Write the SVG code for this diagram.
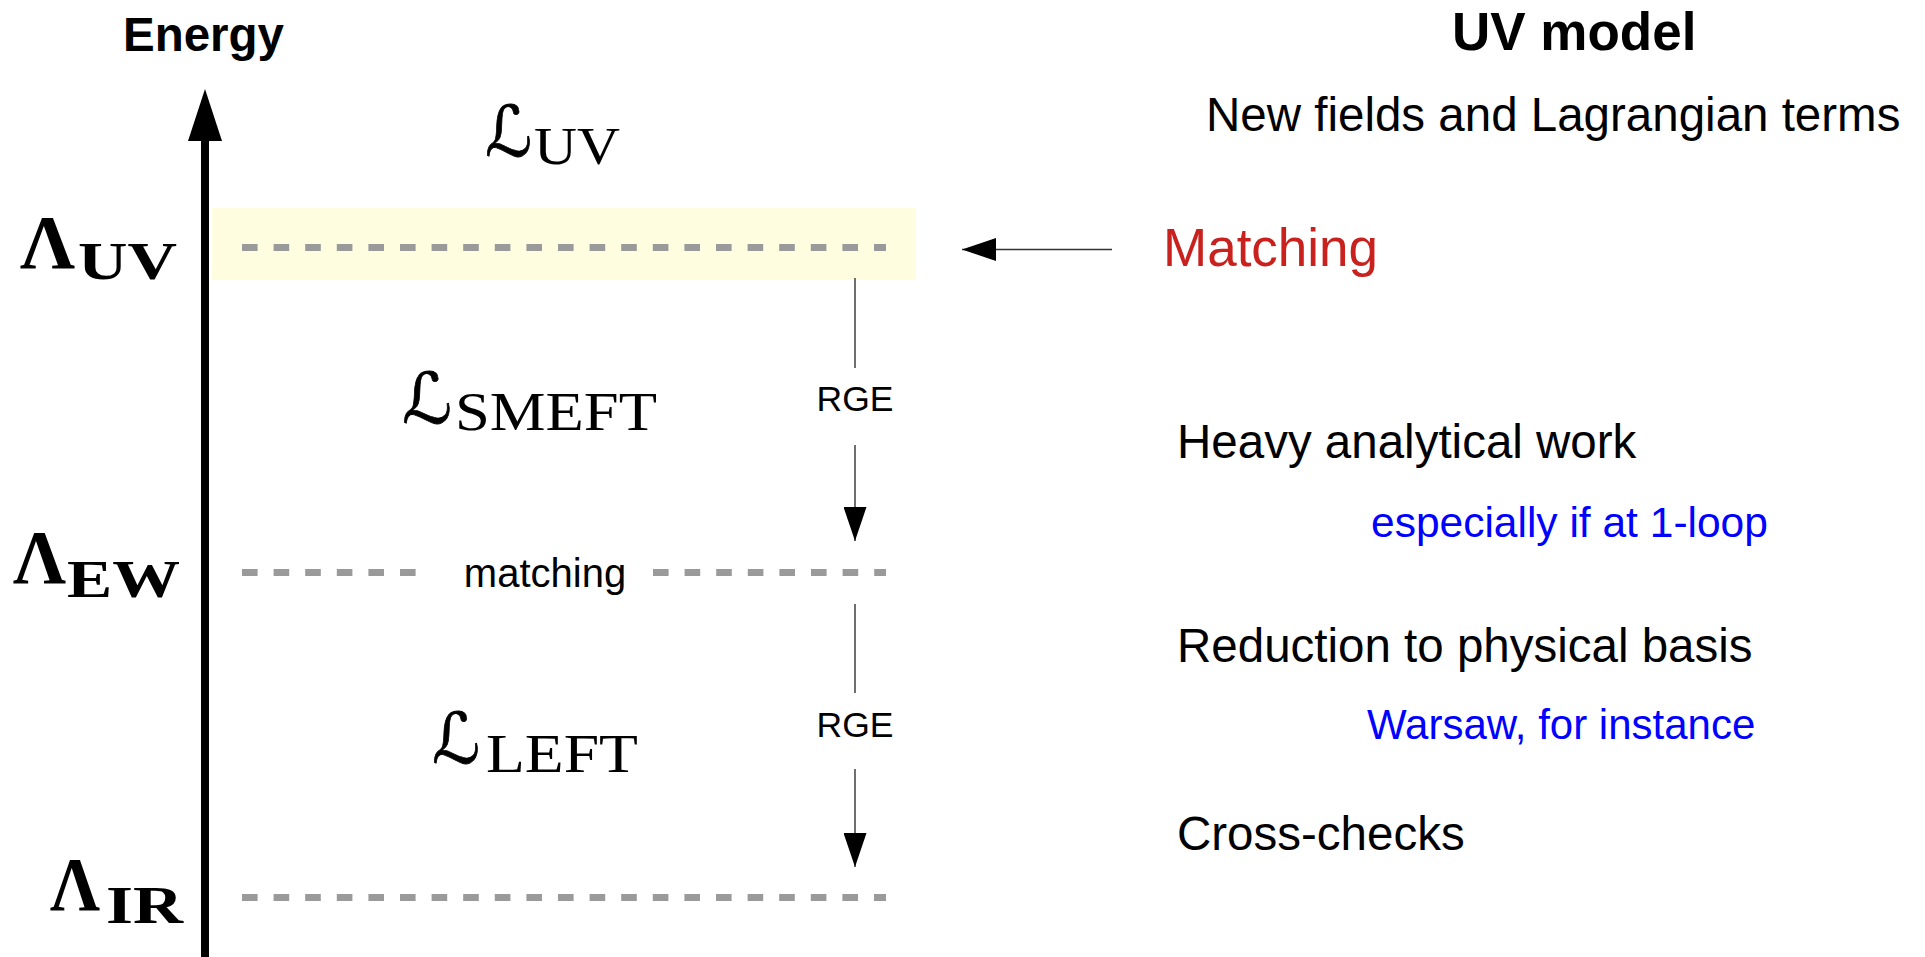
<svg xmlns="http://www.w3.org/2000/svg" width="1925" height="957" viewBox="0 0 1925 957">
  <style>
    .sans { font-family: "Liberation Sans", Arial, sans-serif; fill: #000; }
    .bold { font-weight: bold; }
    .serif { font-family: "Liberation Serif", "Times New Roman", serif; fill: #000; }
    .script { font-family: "DejaVu Serif", "DejaVu Sans", serif; font-style: normal; fill: #000; stroke: #000; stroke-width: 0.8; }
    .blue { fill: #0000ff; }
    .red { fill: #c9211e; }
    .level { stroke: #9a9a9a; stroke-width: 7; stroke-dasharray: 15.6 16; fill: none; }
    .thin { stroke: #333; stroke-width: 1.4; fill: none; }
  </style>
  <defs>
    <marker id="headThin" markerUnits="userSpaceOnUse" markerWidth="34" markerHeight="23" refX="34" refY="11.5" viewBox="0 0 34 23" orient="auto">
      <path d="M0,0 L34,11.5 L0,23 Z" fill="#000"/>
    </marker>
  </defs>
  <rect width="1925" height="957" fill="#fff"/>

  <g id="uv-band">
    <rect x="212" y="208" width="704" height="72" fill="#fefde0"/>
  </g>

  <g id="levels">
    <line class="level" x1="242" y1="247.5" x2="886" y2="247.5"/>
    <line class="level" x1="242" y1="572.5" x2="416" y2="572.5"/>
    <line class="level" x1="653" y1="572.5" x2="886" y2="572.5"/>
    <line class="level" x1="242" y1="897.5" x2="886" y2="897.5"/>
  </g>

  <g id="connectors">
    <line id="energy-axis" x1="205" y1="957" x2="205" y2="141" stroke="#000" stroke-width="8"/>
    <path d="M205,89 L188,141 L222,141 Z" fill="#000"/>
    <line id="matching-arrow" class="thin" x1="1112" y1="249.5" x2="962" y2="249.5" marker-end="url(#headThin)"/>
    <line id="rge1-top" class="thin" x1="855" y1="278" x2="855" y2="368"/>
    <line id="rge1-bottom" class="thin" x1="855" y1="445" x2="855" y2="541" marker-end="url(#headThin)"/>
    <line id="rge2-top" class="thin" x1="855" y1="604" x2="855" y2="693"/>
    <line id="rge2-bottom" class="thin" x1="855" y1="769" x2="855" y2="867" marker-end="url(#headThin)"/>
  </g>

  <g id="energy-label">
    <text class="sans bold" x="123" y="51" font-size="47.5">Energy</text>
  </g>

  <g id="lambda-uv">
    <text class="serif bold" x="20" y="268" font-size="76" textLength="55" lengthAdjust="spacingAndGlyphs">Λ</text>
    <text class="serif bold" x="78" y="279" font-size="53" textLength="99" lengthAdjust="spacingAndGlyphs">UV</text>
  </g>
  <g id="lambda-ew">
    <text class="serif bold" x="13" y="583" font-size="76" textLength="53" lengthAdjust="spacingAndGlyphs">Λ</text>
    <text class="serif bold" x="67" y="597" font-size="53" textLength="113" lengthAdjust="spacingAndGlyphs">EW</text>
  </g>
  <g id="lambda-ir">
    <text class="serif bold" x="50" y="910" font-size="76" textLength="50" lengthAdjust="spacingAndGlyphs">Λ</text>
    <text class="serif bold" x="106" y="923" font-size="53" textLength="77" lengthAdjust="spacingAndGlyphs">IR</text>
  </g>

  <g id="lagrangian-uv">
    <text class="script" x="485" y="156" font-size="70" textLength="47" lengthAdjust="spacingAndGlyphs">ℒ</text>
    <text class="serif" x="534" y="164" font-size="53" textLength="86" lengthAdjust="spacingAndGlyphs">UV</text>
  </g>
  <g id="lagrangian-smeft">
    <text class="script" x="402" y="423" font-size="70" textLength="50" lengthAdjust="spacingAndGlyphs">ℒ</text>
    <text class="serif" x="455" y="430" font-size="54" textLength="202" lengthAdjust="spacingAndGlyphs">SMEFT</text>
  </g>
  <g id="lagrangian-left">
    <text class="script" x="432" y="763" font-size="70" textLength="48" lengthAdjust="spacingAndGlyphs">ℒ</text>
    <text class="serif" x="486" y="772" font-size="54" textLength="152" lengthAdjust="spacingAndGlyphs">LEFT</text>
  </g>

  <g id="rge-labels">
    <text class="sans" x="855" y="411" font-size="35.5" text-anchor="middle">RGE</text>
    <text class="sans" x="855" y="737" font-size="35.5" text-anchor="middle">RGE</text>
  </g>

  <g id="ew-matching">
    <text class="sans" x="545" y="587" font-size="40" text-anchor="middle">matching</text>
  </g>

  <g id="uv-model">
    <text class="sans bold" x="1452" y="50" font-size="53">UV model</text>
    <text class="sans" x="1206" y="131" font-size="47.5">New fields and Lagrangian terms</text>
  </g>

  <g id="matching">
    <text class="sans red" x="1163" y="266" font-size="53">Matching</text>
  </g>

  <g id="heavy-work">
    <text class="sans" x="1177" y="458" font-size="47.5">Heavy analytical work</text>
    <text class="sans blue" x="1371" y="537" font-size="42.5">especially if at 1-loop</text>
  </g>

  <g id="reduction">
    <text class="sans" x="1177" y="662" font-size="47.5">Reduction to physical basis</text>
    <text class="sans blue" x="1367" y="739" font-size="42">Warsaw, for instance</text>
  </g>

  <g id="cross-checks">
    <text class="sans" x="1177" y="850" font-size="47.5">Cross-checks</text>
  </g>
</svg>
